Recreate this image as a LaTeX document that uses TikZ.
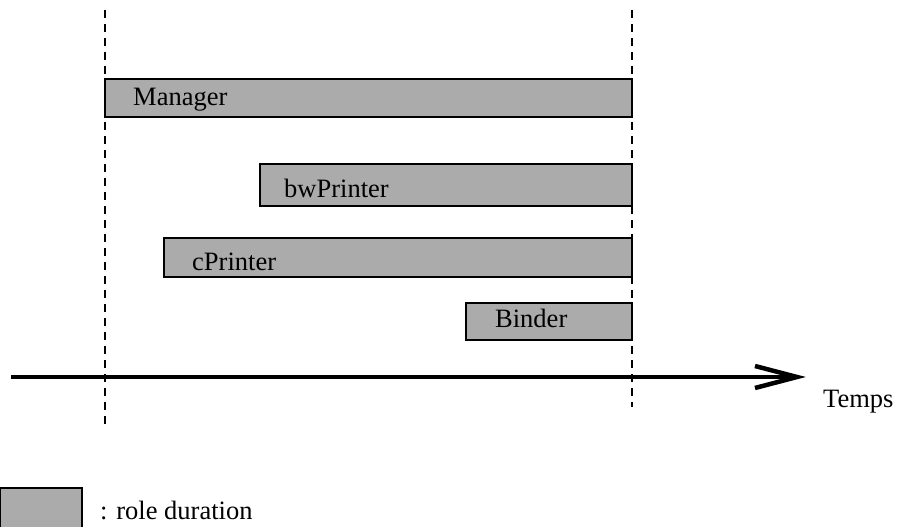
\documentclass[tikz,border=0pt]{standalone}
\usepackage{fontspec}
\setmainfont{Liberation Serif}
\begin{document}
\begin{tikzpicture}[x=1pt,y=-1pt,
  bar/.style={draw=black, line width=1.3pt, fill=black!33, inner sep=0pt, outer sep=0pt, anchor=north west, rectangle},
  lbl/.style={anchor=base west, inner sep=0pt, font=\fontsize{26.5}{30}\selectfont},
  guide/.style={line width=1.2pt, dash pattern=on 8pt off 6pt},
  axis/.style={line width=3.3pt},
  barb/.style={line width=4.5pt, line join=miter}
]
\useasboundingbox (0,0) rectangle (898,527);

% guide lines
\coordinate (l1) at (105,10);
\coordinate (l2) at (105,429);
\coordinate (r1) at (632,10);
\coordinate (r2) at (632,407);
\draw[guide] (l1) -- (l2);
\draw[guide] (r1) -- (r2);

% bars
\node[bar, minimum width=527pt, minimum height=38pt] (manager) at (105,79) {};
\node[bar, minimum width=372pt, minimum height=42pt] (bwprinter) at (260,164) {};
\node[bar, minimum width=468pt, minimum height=39pt] (cprinter) at (164,238) {};
\node[bar, minimum width=166pt, minimum height=37pt] (binder) at (466,303) {};

% labels
\node[lbl] (tmanager) at (133,106) {Manager};
\node[lbl] (tbw) at (284,197) {bwPrinter};
\node[lbl] (tc) at (192,270) {cPrinter};
\node[lbl] (tb) at (495,327) {Binder};

% time axis
\coordinate (a0) at (11,377);
\coordinate (aend) at (796,377);
\coordinate (tip) at (797,377);
\coordinate (b1) at (755,366);
\coordinate (b2) at (755,388);
\draw[axis] (a0) -- (aend);
\draw[barb] (b1) -- (tip) -- (b2);
\node[lbl] (temps) at (823,407) {Temps};

% legend
\node[bar, minimum width=82pt, minimum height=40pt] (legend) at (0,488) {};
\node[lbl] (legtext) at (100,519) {: role duration};
\end{tikzpicture}
\end{document}
